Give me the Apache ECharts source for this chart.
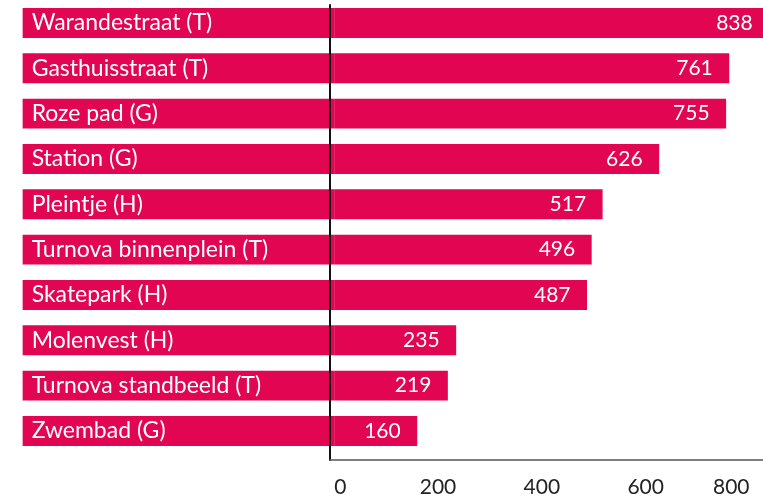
<!DOCTYPE html>
<html>
<head>
<meta charset="utf-8">
<script src="https://cdn.jsdelivr.net/npm/echarts@6/dist/echarts.min.js"></script>
<style>
  html, body { margin: 0; padding: 0; background: #fff; }
  #chart { width: 763px; height: 500px; }
</style>
</head>
<body>
<div id="chart"></div>
<script>
var categories = ['Warandestraat (T)', 'Gasthuisstraat (T)', 'Roze pad (G)', 'Station (G)', 'Pleintje (H)',
  'Turnova binnenplein (T)', 'Skatepark (H)', 'Molenvest (H)', 'Turnova standbeeld (T)', 'Zwembad (G)'];
var values = [838, 761, 755, 626, 517, 496, 487, 235, 219, 160];
var tickValues = [0, 200, 400, 600, 800];

var BAR_COLOR = '#e20552';
var LABEL_START = -600; // label part of each bar starts here (left of zero)

var myChart = echarts.init(document.getElementById('chart'));

var option = {
  animation: false,
  grid: { left: 330, right: 0, top: 5, bottom: 40, outerBoundsMode: 'none', containLabel: false },
  xAxis: {
    type: 'value',
    min: -8,
    max: 826,
    z: 5,
    splitLine: { show: false },
    axisTick: { show: false },
    axisLine: { show: true, onZero: false, lineStyle: { color: '#555', width: 1.5 } },
    axisLabel: {
      customValues: tickValues,
      alignMinLabel: 'left',
      alignMaxLabel: 'right',
      margin: 17,
      color: '#222',
      fontFamily: 'Lato',
      fontSize: 21
    }
  },
  yAxis: {
    type: 'value',
    inverse: true,
    min: -0.397,
    max: 9.64,
    z: 5,
    splitLine: { show: false },
    axisTick: { show: false },
    axisLabel: { show: false },
    axisLine: { show: true, onZero: false, lineStyle: { color: '#111', width: 2 } }
  },
  series: [{
    type: 'custom',
    data: values.map(function (v, i) { return [v, i]; }),
    encode: { x: 0, y: 1 },
    renderItem: function (params, api) {
      var v = api.value(0);
      var i = api.value(1);
      var start = api.coord([LABEL_START, i]);
      var zero = api.coord([0, i]);
      var end = api.coord([v, i]);
      var h = api.size([0, 1])[1] * 0.66;
      return {
        type: 'group',
        children: [
          { type: 'rect', shape: { x: start[0], y: start[1] - h / 2, width: zero[0] - start[0], height: h }, style: { fill: BAR_COLOR } },
          { type: 'rect', shape: { x: zero[0], y: zero[1] - h / 2, width: end[0] - zero[0], height: h }, style: { fill: BAR_COLOR } },
          { type: 'text', x: start[0] + 9, y: start[1], style: { text: categories[i], fill: '#fff', font: '23px Lato', align: 'left', verticalAlign: 'middle' } },
          { type: 'text', x: end[0] - 16.5, y: end[1], style: { text: String(v), fill: '#fff', font: '21px Lato', align: 'right', verticalAlign: 'middle' } }
        ]
      };
    }
  }]
};

myChart.setOption(option);
window.addEventListener('resize', function () { myChart.resize(); });
</script>
</body>
</html>
